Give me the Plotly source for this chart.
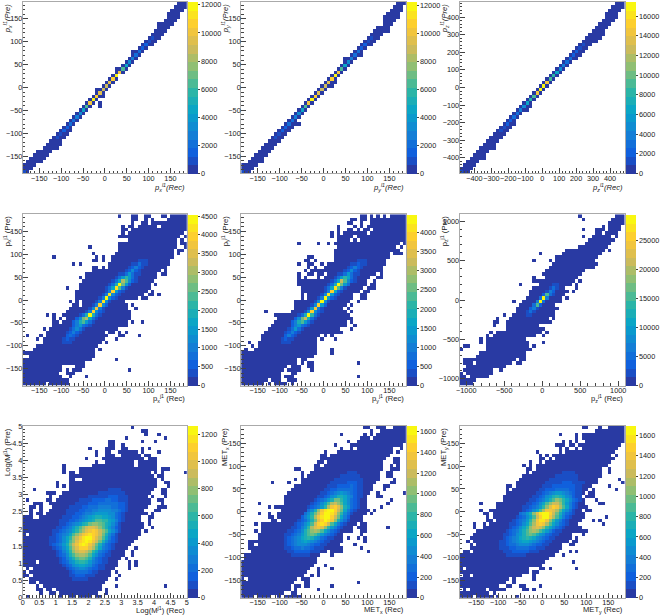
import numpy as np
import plotly.graph_objects as go

# Colour-level maps. Each row runs top to bottom of a panel.
# Token forms: "a-b" or "a" = occupied bins at the lowest colour level;
# "a:levels" = bins from a on, one base-20 colour level per character.
P1_CELLS = ["47:000","46:0000","45:0000","44:0000","44:0000","43:0000","41:00000","41:0000","40:0000","39:0000",
 "38:0100","37:0100","36:0200","35:020","33:0030","33:030","32:040","31:050","30:070","28:00a0",
 "28:0g0","27:0j","26:0h0","25:0f0","24:0e0","22:00e0","22:0f0","21:0h00","20:0j0","19:0g0 23",
 "18:0a0 23","17:070","16:050","15:040","14:030","13:030","12:020","11:0200","10:0100","9:0100",
 "8:0000","7:00000","6:00000","4:00000","3:00000","2:00000","1:00000","0:0000","0:000","0:10"]
P2_CELLS = ["47:000","46:000","45:0000","44:0000","43:00000","43:0000","43:000","41:0000","40:00000","39:0000",
 "38:0100","37:0100","36:0200","35:020","34:030","33:0300","31:0040","31:050","30:070","29:0a0",
 "28:0g0","27:0j0","26:0h0","25:0f00","24:0e00","23:0e0","22:0f0","21:0h0","20:0j0","19:0g0",
 "18:0a0","17:070","16:050","15:040","14:030","13:03000","12:0200","11:0200","10:0100","9:0100",
 "8:0000","7:0000","6:0000","5:0000","4:0000","3:0000","2:00000 6","0:00000","0:0000","0:100"]
P3_CELLS = ["47:000","46:0000","45:0000","44:0000","44:0000","43:0000","42:0000","41:0000","40:0000","39:00000",
 "38:00000","37:00000","36:0100","35:0100","34:0200","33:0200","32:0300","31:030","30:040","29:050",
 "28:070","27:090","26:0a0","25:0g0","24:0j0","23:0j0","22:0g0","21:0a0","20:090","19:070",
 "18:0500","17:0400","16:030","15:030","14:020","13:0200","12:0100","11:0100","10:0000","9:0000",
 "8:0000","7:0000","6:00000","5:0000","4:0000","3:00000","2:0000","1:0000","0:0000","0:100"]

P4_SPANS = ["29 33-34 37-38 42-43 45-49","33-34 37 39 44-49","33 36-37 39-49","30 32-33 35-40 42-49","30-31 33-49",
 "30 32-48","29-47 49","32-46 48","29-46 48-49","20 29-46 49",
 "29-45 47-48","21 28-45 47","9 22 24 27-45","21-22 24 27-44","15 17 26-44",
 "21-22 24 26-43","21-41 43","19-40 42-43","17 19-40","18-39",
 "17-38 40","13 17-38","16-37 39","16-36 38-39 41","16-34 36-37",
 "14 16 18-30","15-16 18-31 33","14-31 34","13-32","7 9 12-32",
 "9 11 13-32","9-10 12-31 33 36","9-31","6 8-28","7-24 26-27 29 31",
 "1 5 7-25 29-30 35","4 6-24 28","6-23 25","4-22","3-21 23",
 "0-21","2-21","0-20 28","0-18","0-11 16-18",
 "0-11 13 15-17 32","0-10 13-15","0-11 14 19","0-13","0-6 8-13"]
P4_CORE = {13:"35:111",14:"33:11311",15:"32:12421",16:"31:12521",17:"29:1136311",18:"28:1369631",19:"27:137da521",
 20:"26:138jb62",21:"25:137ia41",22:"25:14h621",23:"24:14i521",24:"23:14j521",25:"22:14i51",26:"21:14h52",
 27:"20:15g41",28:"19:14h521",29:"17:138j831",30:"16:25bd731",31:"15:248a631",32:"15:246321",33:"14:13531",
 34:"13:12421",35:"13:2321",36:"12:1211",37:"12:111"}

P5_SPANS = ["36-37 39 41 43 45-49","33-34 36-37 39-49","32-33 36 39-49","29 34 36 38-49","29 32-33 35 37-38 40-49",
 "27 29 31-37 39-49","27 29-33 35-49","29-32 34 36-49","17 23 26 28-47 49","29-46 48",
 "28-47","28-44 46-48","20-21 28-44","19-20 22 28-43","17 20-21 24 26-43",
 "20 22 25-42","19 21-42","17 20-21 23-24 26-40 42","17 19 23 25-38 41-42","17-37 40",
 "17-37 39-40","18-36 38-40","18-35 37-38","18 20-33 36-37","18 20-33 36-37",
 "16-32 35","16-31 33","16-30 32","7 15-31 33","10-32",
 "11-33","10-31 33","9-31 34","8-29 33","7-30",
 "6-23 25 27","6-22 24 28","2 5-22","3 5-22","1 4-22 27",
 "0-22 27","0-21","0-16 18-19","0-16 18 20-21 35","0-13 15-17 20-21",
 "0-12 14-17 21","0-11 15-16","0-11 13-15 35","0-7 9-11 14-16","0-6 8 10-13 15"]
P5_CORE = {13:"35:111",14:"33:11211",15:"32:12421",16:"31:12521",17:"29:1136311",18:"28:1369731",19:"27:137ea521",
 20:"26:138jb63",21:"25:137ia41",22:"25:14h721",23:"24:15i621",24:"23:14j621",25:"22:15j51",26:"21:15h62",
 27:"20:16g41",28:"19:15h521",29:"17:138j931",30:"16:25be831",31:"15:248a631",32:"15:246321",33:"14:13631",
 34:"13:12421",35:"13:2421",36:"12:1211",37:"12:111"}

P6_SPANS = ["36 47-49","37 46-49","45-49","43 45-48","37 41-43 45-48",
 "41-42 44-47","37 40-45 47","39-46","38-45","36-44",
 "32-43 45","24 31-42","29-41","22 27 29-40","28-41",
 "27-40","26-37","25-36","22 26-35","22-34 36",
 "18 24-33 35","22-31 35","21-32 34","21-31","20-30 32",
 "16 19-30","18-28","17-29","17-28","13 16-28",
 "11 15-26 28","10-11 14-27","10 14-23","14-25","9 11-24 26",
 "8 10-22 25","6 8-19","6 8-20 25","1-2 8-20 22","0 8-21",
 "6-19","5-19","1-16 18-19","1-3 5-15 17-18","2-13",
 "1-9 12","0 2-9","0-1 3-8","0-4","0-3"]
P6_CORE = {20:"28:11",21:"27:131",22:"26:142",23:"25:2a31",24:"24:3j4",25:"23:4j3",26:"22:3a2",27:"21:241",28:"20:131",29:"20:11"}

P7_SPANS = ["33","36-37","37 41","31 43","26-27 36 40",
 "26-27 30","20 25-27 30-31 36 38","22 25-26 29-34 36 41","22 25-27 30-35 37-38","19 24-36 38-40",
 "22 25-33 35-40","12 21-33 35-40","12 17-40 42-44","12 14-15 17-38 40 42 49","14-39 41-42",
 "14-15 18-40 42","10 14-40 43-44","10 12 14-40 44","3 14-39 42-43","7-9 12-38 42-43",
 "8 11-37 39 43","1 7-8 10-38 41-42","3-5 8-38 42","2-3 5 9-37 41-43","2 5 8-36 40-41",
 "2 4-5 7-37 39","0-2 5-35 38-39","0-35 38","0-36 38","0-36 39",
 "0-35 37","0 2-35","0-34","0-33","0-32",
 "0-31 34","0-30 33","0-30 33","0-29 31","0-3 5-28 32 34",
 "0-28 32 34","1 3-27 32","0 2-26 28","0-1 3-26 29","2-25 28",
 "2-3 5-24","4 6-23 28 43","4-5 7-8 10-23 25","5 8-9 11-22 25","1 11 14-15 17-20 22-23"]
P7_CORE = {18:"26:1111",19:"23:11111111",20:"20:111111222111",21:"17:111122223322111",22:"16:1111222333333221",
 23:"14:111122333444433221",24:"13:1111223344555544321",25:"13:111223445666655321",26:"12:1112234567887765321",
 27:"11:11122345678aa9976421",28:"11:112345689bccba87531",29:"10:1123468aceffeca86421",30:"9:11234579bdfghgeca7531",
 31:"9:123457aceghihgeb8531",32:"8:1123579cegijjhfda7421",33:"8:112357acfhijigeb85321",34:"8:123468begijigeb85321",
 35:"9:12357adfhhhfda74321",36:"10:12469ceffec974321",37:"10:12358acddca753211",38:"11:12468abba853211",
 39:"11:123568998643211",40:"12:1235677653211",41:"13:123455432211",42:"14:123333211",43:"14:11222111",44:"15:11111"}

P8_SPANS = ["37-38 41-43 46-49","39 42-49","30 37 39 41-49","36-38 40-49","32 35-49",
 "28 33-48","30 33 35-45 48","25 29-45 47","24-25 27-44","24-43 46-47",
 "23-24 26-42 46-47","22-23 25-42 45 47","16-17 22-42 45-47","18 21-41 44-45","18 20-41 44-45",
 "16 18-41 46","9 14 18-40 45-46","16-39 43-44","15-39 43","14-38 41 49",
 "13-37 41-42","13-37 45","5 13-37 44","8 10-37 42","12-38 40",
 "5 8 11-37 39","8-9 11-36","9-10 12-36","4 6-34 36-37","6-33 35-37 44",
 "4 6-33 36-37","5-30 36","5-30 32 35 37","2-30 37","2-3 5-29 34",
 "2-30 36","3-25 27-30 38","1-23 27","1-22","0-22",
 "0-21 25","0-20 23 27","0-19 23","0-18 21 23","0 2-16 18-20",
 "0-15 19-20 35","0-14 16-17 19-20 27","0-14 16 23","0-12 15-16","0-3 5-8 11 13-17"]
P8_CORE = {13:"32:111",14:"30:111111",15:"28:111111111",16:"27:1111122211",17:"26:11122223211",18:"25:112233333211",
 19:"24:1123456543211",20:"23:11235688754211",21:"22:123468bb975321",22:"21:12357adeca75321",23:"20:123469dghfc86321",
 24:"20:358cgijjheb7421",25:"19:358behjjigc9531",26:"18:2469dgijjheb742",27:"17:12358bfhjigc8531",28:"16:12357aehihea7421",
 29:"15:112469dfgfc96421",30:"14:112358acdca75321",31:"13:1123468aba864321",32:"13:123457898653211",33:"13:12345676543211",
 34:"13:1234555432211",35:"13:112334332111",36:"14:1122222111",37:"15:111111"}

P9_SPANS = ["37-38 42 45-49","41-49","30 35 37-49","35 37-49","31 33 35 38-49",
 "29-31 33-34 36-48","30 32 35 37-47","23 30 32-46","24 26 28-45 47","24-25 27 29-46",
 "21 24 26-45","19 21 23-44","20-21 23-42 45","20 22-42 45","19-42",
 "18-41 48","17-41 49","14-15 17-39 45","14 16-38 40 47","14-37 39-40",
 "13-36 38-40","13-37 41","6 11-37 42-43","11-38","6 9-36 38-39",
 "7-8 10-37","8 10-37 44","8-9 11-36 40 42","4 7 9-35 43","4 7-36",
 "5-38","4-33 37","3-33 35","2 4-32 34-35","3 5-30 33-34",
 "3-30","1-2 4-29 33 35","0-28 31","0-26","0-25 34",
 "0-24","0 2-20 24-25 27 35","0-20 22-23","1-2 4-18 22","0-14 16 22",
 "0-13 16","0-11 14-15 18-19 24","1 3-7 9-13 19-20 22","0-8 10","0-3 5-9 11 17"]
P9_CORE = {13:"31:1111",14:"29:1111111",15:"27:111111111",16:"26:111112221111",17:"25:111222222211",18:"24:1122233332211",
 19:"23:11234566543211",20:"22:112356898754211",21:"21:1123468acb975321",22:"20:112357aceec96421",23:"19:1123469cfhgda7421",
 24:"19:12357adggfda7531",25:"18:3468cfijjheb85321",26:"17:12357aehjjgda7421",27:"16:123469cgiigc96421",28:"15:112357adghgda75321",
 29:"15:123579cefec975321",30:"14:123468acdca864211",31:"13:1123568aba8653211",32:"13:1234578987543211",33:"12:1123456776543211",
 34:"12:112334555432211",35:"12:11122333322111",36:"13:11122222111",37:"14:111111"}

Z_MAX = [12240, 12300, 17500, 4540, 4470, 29470, 1260, 1655, 1695]
C_DTICK = [2000, 2000, 2000, 500, 500, 5000, 200, 200, 200]
X_LO = [-187.5, -187.5, -487.5, -187.5, -187.5, -1087.5, 0, -187.5, -187.5]
X_HI = [187.5, 187.5, 487.5, 187.5, 187.5, 1087.5, 5, 187.5, 187.5]
DTICK = [50, 50, 100, 50, 50, 500, 0.5, 50, 50]
MINOR = [10, 10, 20, 10, 10, 100, 0.1, 10, 10]
X_TITLES = ["<i>p<sub>x</sub><sup>l1</sup>(Rec)</i>", "<i>p<sub>y</sub><sup>l1</sup>(Rec)</i>", "<i>p<sub>z</sub><sup>l1</sup>(Rec)</i>",
            "p<sub>x</sub><sup>j1</sup> (Rec)", "p<sub>y</sub><sup>j1</sup> (Rec)", "p<sub>z</sub><sup>j1</sup> (Rec)",
            "Log(M<sup>j1</sup>) (Rec)", "MET<sub>x</sub> (Rec)", "MET<sub>y</sub> (Rec)"]
Y_TITLES = ["<i>p<sub>x</sub><sup>l1</sup>(Pre)</i>", "<i>p<sub>y</sub><sup>l1</sup>(Pre)</i>", "<i>p<sub>z</sub><sup>l1</sup>(Pre)</i>",
            "p<sub>x</sub><sup>j1</sup> (Pre)", "p<sub>y</sub><sup>j1</sup> (Pre)", "p<sub>z</sub><sup>j1</sup> (Pre)",
            "Log(M<sup>j1</sup>) (Pre)", "MET<sub>x</sub> (Pre)", "MET<sub>y</sub> (Pre)"]
PANELS = [(P1_CELLS, {}), (P2_CELLS, {}), (P3_CELLS, {}), (P4_SPANS, P4_CORE), (P5_SPANS, P5_CORE),
          (P6_SPANS, P6_CORE), (P7_SPANS, P7_CORE), (P8_SPANS, P8_CORE), (P9_SPANS, P9_CORE)]

# Panel boxes, in pixels of the 660x616 page
COL_X = [(23, 187.7), (242.3, 407.7), (461.7, 627.7)]
ROW_Y = [(1.7, 173.3), (214.3, 385.7), (426, 597.7)]
TITLE_X = [7, 226, 446]
XT_Y = [187, 398, 610]
W, H = 660, 616
FONT = "Liberation Sans, Arial, sans-serif"
AXC = "#444"

# ROOT's kBird palette, 20 flat steps
st = [0, .125, .25, .375, .5, .625, .75, .875, 1]
R = [.2082, .0592, .0780, .0232, .1802, .5301, .8186, .9956, .9764]
G = [.1664, .3599, .5041, .6419, .7178, .7492, .7328, .7862, .9832]
B = [.5293, .8684, .8385, .7914, .6425, .4662, .3499, .1968, .0539]
NLEV = 20
cs = []
for i in range(NLEV):
    t = (i + .8) / NLEV
    c = "rgb(%d,%d,%d)" % tuple(round(255 * np.interp(t, st, a)) for a in (R, G, B))
    cs += [[i / NLEV, c], [(i + 1) / NLEV, c]]


def decode(rows, core):
    m = np.full((50, 50), np.nan)
    def put(r, text):
        for tok in text.split():
            if ":" in tok:
                a, lv = tok.split(":")
                for k, ch in enumerate(lv):
                    col = int(a) + k
                    if ch != "." and col < 50:
                        m[r, col] = int(ch, 20)
            elif "-" in tok:
                a, b = tok.split("-")
                m[r, int(a):int(b) + 1] = 0
            else:
                m[r, int(tok)] = 0
    for r, text in enumerate(rows):
        put(r, text)
    for r, text in core.items():
        put(r, text)
    return m[::-1]


fig = go.Figure()
ann = []
lay = {}
for n in range(9):
    i, j = n // 3, n % 3
    x0, x1 = COL_X[j]
    y0, y1 = ROW_Y[i]
    lo, hi, zmax = X_LO[n], X_HI[n], Z_MAX[n]
    centers = lo + (np.arange(50) + .5) * (hi - lo) / 50
    z = (decode(*PANELS[n]) + .5) * zmax / NLEV
    sfx = "" if n == 0 else str(n + 1)
    fig.add_trace(go.Heatmap(
        x=centers, y=centers, z=z, zmin=0, zmax=zmax, colorscale=cs, hoverongaps=False,
        xaxis="x" + sfx, yaxis="y" + sfx,
        colorbar=dict(x=(x1 + 1) / W, xanchor="left", xpad=0, y=1 - (y0 + y1) / 2 / H, yanchor="middle", ypad=0,
                      len=(y1 - y0) / H, lenmode="fraction", thickness=10, thicknessmode="pixels",
                      outlinewidth=0, ticks="outside", ticklen=2, tickwidth=.6, tickcolor=AXC,
                      tick0=0, dtick=C_DTICK[n], tickformat="d", tickfont=dict(family=FONT, size=7.3, color="#222")),
    ))
    common = dict(range=[lo, hi], tick0=0, dtick=DTICK[n], ticks="inside", ticklen=5, tickwidth=.6, tickcolor=AXC,
                  minor=dict(ticks="inside", dtick=MINOR[n], tick0=0, ticklen=2.5, tickwidth=.5, tickcolor=AXC),
                  showgrid=False, zeroline=False, showline=True, linecolor="#aaa", linewidth=1, mirror=True,
                  tickangle=0, ticklabelstandoff=-2,
                  tickfont=dict(family=FONT, size=7.3, color="#222"), automargin=False)
    lay["xaxis" + sfx] = dict(domain=[x0 / W, x1 / W], anchor="y" + sfx, **common)
    lay["yaxis" + sfx] = dict(domain=[1 - y1 / H, 1 - y0 / H], anchor="x" + sfx, **common)
    ann.append(dict(text=X_TITLES[n], xref="paper", yref="paper", x=x1 / W, y=1 - XT_Y[i] / H, xanchor="right",
                    yanchor="middle", showarrow=False, font=dict(family=FONT, size=7.6, color="#222")))
    ann.append(dict(text=Y_TITLES[n], xref="paper", yref="paper", x=TITLE_X[j] / W, y=1 - y0 / H, xanchor="center",
                    yanchor="top", textangle=-90, showarrow=False, font=dict(family=FONT, size=7.6, color="#222")))

fig.update_layout(width=W, height=H, margin=dict(l=0, r=0, t=0, b=0), plot_bgcolor="white", paper_bgcolor="white",
                  annotations=ann, **lay)
fig.write_html("out.html", config={"displayModeBar": False}, post_script="document.body.style.margin='0';")
